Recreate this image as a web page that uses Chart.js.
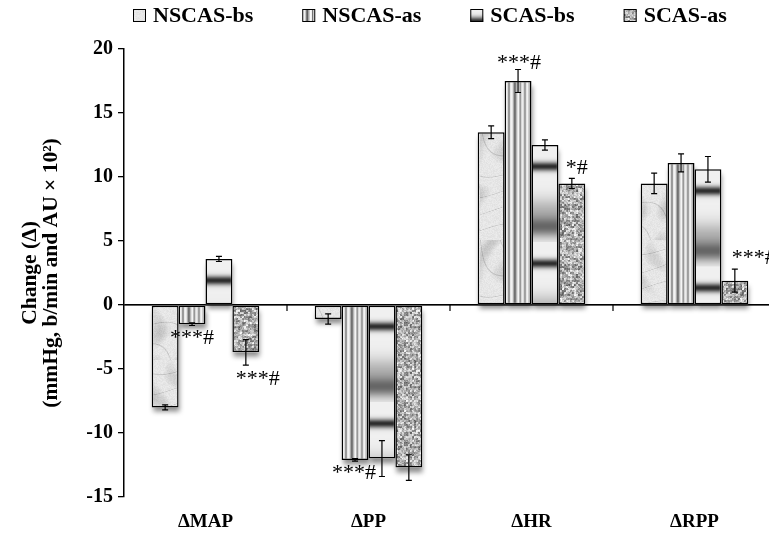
<!DOCTYPE html>
<html><head><meta charset="utf-8">
<script src="https://cdn.jsdelivr.net/npm/chart.js@4.4.1/dist/chart.umd.min.js"></script>
<style>
html,body{margin:0;padding:0;background:#fff;overflow:hidden;width:769px;height:535px}
#wrap{position:relative;width:780px;height:535px}
</style>
</head><body>
<div id="wrap"><canvas id="c" width="780" height="535"></canvas></div>
<script>
// ---------------- DATA ----------------
const categories = ['ΔMAP', 'ΔPP', 'ΔHR', 'ΔRPP'];
const seriesNames = ['NSCAS-bs', 'NSCAS-as', 'SCAS-bs', 'SCAS-as'];
const nscasBs = [-8.0, -1.1, 13.5, 9.5];
const nscasAs = [-1.5, -12.1, 17.5, 11.1];
const scasBs = [3.6, -12.0, 12.5, 10.6];
const scasAs = [-3.7, -12.7, 9.5, 1.9];
const nscasBsErr = [0.2, 0.4, 0.5, 0.8];
const nscasAsErr = [0.1, 0.1, 0.9, 0.7];
const scasBsErr = [0.2, 1.4, 0.4, 1.0];
const scasAsErr = [1.0, 1.0, 0.4, 0.9];
const yTickValues = [-15, -10, -5, 0, 5, 10, 15, 20];
const yTitle = ['Change (Δ)', '(mmHg, b/min and AU × 10²)'];
// significance labels: [category index, series index, text]
const sigLabels = [
  [0, 1, '***#'],
  [0, 3, '***#'],
  [1, 1, '***#'],
  [2, 1, '***#'],
  [2, 3, '*#'],
  [3, 3, '***#']
];

// ---------------- STYLE ----------------
const FONT = "'Liberation Serif', 'Times New Roman', serif";
const sigOffsets = [[0, 13], [12, 14], [-1, 12], [1, -6], [5, -10], [19, -11]];
const CAT_PCT = 0.66;

function hash(x, y) { const s = Math.sin(x * 12.9898 + y * 78.233) * 43758.5453; return s - Math.floor(s); }
function makeCanvas(w, h, fn) {
  const c = document.createElement('canvas'); c.width = w; c.height = h;
  const g = c.getContext('2d'); const img = g.createImageData(w, h);
  for (let y = 0; y < h; y++) for (let x = 0; x < w; x++) {
    const v = Math.max(0, Math.min(255, Math.round(fn(x, y))));
    const i = (y * w + x) * 4; img.data[i] = v; img.data[i + 1] = v; img.data[i + 2] = v; img.data[i + 3] = 255;
  }
  g.putImageData(img, 0, 0); return c;
}
const ctx0 = document.getElementById('c').getContext('2d');
const marbleCanvas = makeCanvas(120, 120, (x, y) => {
  const n = Math.sin(x * 0.09 + 2.5 * Math.sin(y * 0.05 + x * 0.02)) * Math.sin(y * 0.07 + 2 * Math.sin(x * 0.06));
  const vein = Math.abs(Math.sin(x * 0.05 - y * 0.11 + 3 * Math.sin(x * 0.04 + y * 0.03)));
  let v = 230 - 34 * Math.max(0, n) + (hash(x, y) - 0.5) * 12;
  if (vein < 0.12) v -= (0.12 - vein) * 260;
  return v;
});
const stripeCols = [205, 238, 250, 175, 115, 222, 246, 240, 200, 125, 95, 165, 205, 250, 240, 115, 200, 232, 242, 185, 125, 212, 250, 232, 172, 200, 222];
const stripeCanvas = makeCanvas(stripeCols.length, 4, (x) => stripeCols[x]);
const bandCanvas = makeCanvas(4, 97, (x, y) => {
  const d = (y - 21) / 4.5, d2 = (y - 82) / 10, d3 = (y - 66) / 14;
  return 240 - 195 * Math.exp(-d * d) - 120 * Math.exp(-d2 * d2) - 60 * Math.exp(-d3 * d3);
});
const graniteCanvas = makeCanvas(60, 60, (x, y) => {
  const a = hash(Math.floor(x / 2), Math.floor(y / 2)), b = hash(x + 7, y + 3);
  return 172 + (a - 0.5) * 120 + (b - 0.5) * 50;
});
const basePatterns = [marbleCanvas, stripeCanvas, bandCanvas, graniteCanvas].map(cv => ctx0.createPattern(cv, 'repeat'));

const values = [nscasBs, nscasAs, scasBs, scasAs];
const errors = [nscasBsErr, nscasAsErr, scasBsErr, scasAsErr];

function barFill(di) {
  return (ctx) => {
    if (ctx.type !== 'data' || !ctx.chart.scales || !ctx.chart.scales.y) return basePatterns[di];
    const ch = ctx.chart, xs = ch.scales.x, ys = ch.scales.y;
    const cw = (xs.right - xs.left) / categories.length, gw = cw * CAT_PCT, bw = gw / seriesNames.length;
    const left = xs.getPixelForValue(ctx.dataIndex) - gw / 2 + di * bw;
    const top = ys.getPixelForValue(Math.max(ctx.raw, 0));
    if (di === 1) {
      const p = ctx0.createPattern(stripeCanvas, 'repeat');
      p.setTransform(new DOMMatrix().translate(left, 0).scale(bw / stripeCols.length, 1));
      return p;
    }
    if (di === 2) {
      const p = ctx0.createPattern(bandCanvas, 'repeat');
      p.setTransform(new DOMMatrix().translate(0, top));
      return p;
    }
    return basePatterns[di];
  };
}

const datasets = seriesNames.map((n, i) => ({
  label: n, data: values[i], backgroundColor: barFill(i),
  borderColor: '#000', borderWidth: 1.5, borderSkipped: false, inflateAmount: 0,
  categoryPercentage: CAT_PCT, barPercentage: 1.0
}));

const shadowPlugin = {
  id: 'shadow',
  beforeDatasetsDraw(chart) {
    const c = chart.ctx; c.save();
    c.shadowColor = 'rgba(0,0,0,0.45)'; c.shadowBlur = 5; c.shadowOffsetX = 1; c.shadowOffsetY = 5;
    c.fillStyle = '#fff';
    chart.data.datasets.forEach((d, di) => {
      chart.getDatasetMeta(di).data.forEach(el => {
        const l = el.x - el.width / 2, t = Math.min(el.y, el.base), h = Math.abs(el.base - el.y);
        c.fillRect(l, t, el.width, h);
      });
    });
    c.restore();
  }
};

const overlayPlugin = {
  id: 'overlay',
  afterDatasetsDraw(chart) {
    const c = chart.ctx, y = chart.scales.y, x = chart.scales.x;
    c.save();
    c.strokeStyle = '#000'; c.lineWidth = 1.2;
    // zero line over bars
    const y0 = y.getPixelForValue(0);
    c.beginPath(); c.moveTo(chart.chartArea.left, y0); c.lineTo(chart.chartArea.right, y0); c.stroke();
    // error bars
    chart.data.datasets.forEach((d, di) => {
      chart.getDatasetMeta(di).data.forEach((el, i) => {
        const v = values[di][i], e = errors[di][i];
        const y1 = y.getPixelForValue(v + e), y2 = y.getPixelForValue(v - e), cx = el.x;
        c.beginPath();
        c.moveTo(cx, y1); c.lineTo(cx, y2);
        c.moveTo(cx - 3, y1); c.lineTo(cx + 3, y1);
        c.moveTo(cx - 3, y2); c.lineTo(cx + 3, y2);
        c.stroke();
      });
    });
    // category ticks on zero line
    for (let i = 1; i < categories.length; i++) {
      const bx = (x.getPixelForValue(i - 1) + x.getPixelForValue(i)) / 2;
      c.beginPath(); c.moveTo(bx, y0); c.lineTo(bx, y0 + 6); c.stroke();
    }
    // significance labels
    c.fillStyle = '#000'; c.font = "22px " + FONT; c.textAlign = 'center'; c.textBaseline = 'middle';
    sigLabels.forEach((s, k) => {
      const [ci, si, txt] = s;
      const el = chart.getDatasetMeta(si).data[ci];
      const v = values[si][ci], e = errors[si][ci];
      const end = v >= 0 ? y.getPixelForValue(v + e) : y.getPixelForValue(v - e);
      c.fillText(txt, el.x + sigOffsets[k][0], end + sigOffsets[k][1]);
    });
    c.restore();
  },
  afterDraw(chart) {
    // legend
    const c = chart.ctx; c.save();
    c.font = "bold 22px " + FONT; c.textBaseline = 'middle'; c.textAlign = 'left';
    let lx = 133; const ly = 15;
    seriesNames.forEach((n, i) => {
      c.fillStyle = basePatterns[i]; c.fillRect(lx, ly - 6, 13, 13);
      c.strokeStyle = '#000'; c.lineWidth = 1; c.strokeRect(lx + 0.5, ly - 5.5, 12, 12);
      c.fillStyle = '#000'; c.fillText(n, lx + 20, ly + 1);
      lx += 20 + c.measureText(n).width + 49;
    });
    c.restore();
  }
};

new Chart(document.getElementById('c'), {
  type: 'bar',
  data: { labels: categories, datasets },
  plugins: [shadowPlugin, overlayPlugin],
  options: {
    responsive: false, animation: false, devicePixelRatio: 1,
    layout: { padding: { top: 49, right: 4, bottom: 0, left: 0 } },
    plugins: { legend: { display: false }, tooltip: { enabled: false } },
    scales: {
      x: {
        grid: { display: false, drawTicks: false }, border: { display: false },
        ticks: { color: '#000', font: { family: FONT, size: 19, weight: 'bold' }, padding: 14 },
        afterFit: s => { s.height = 38; }
      },
      y: {
        min: -15, max: 20,
        afterBuildTicks: s => { s.ticks = yTickValues.map(v => ({ value: v })); },
        grid: {
          color: ctx => (ctx.tick && ctx.tick.value === 0) ? '#000' : 'rgba(0,0,0,0)',
          lineWidth: 1.3, tickColor: '#000', tickLength: 6, drawOnChartArea: true
        },
        border: { display: true, color: '#000', width: 1.5 },
        ticks: { color: '#000', font: { family: FONT, size: 20, weight: 'bold' }, padding: 5 },
        title: { display: true, text: yTitle, color: '#000', font: { family: FONT, size: 21.5, weight: 'bold', lineHeight: 0.97 }, padding: { top: 20, bottom: 0 } },
        afterFit: s => { s.width = 124; }
      }
    }
  }
});
</script>
</body></html>
